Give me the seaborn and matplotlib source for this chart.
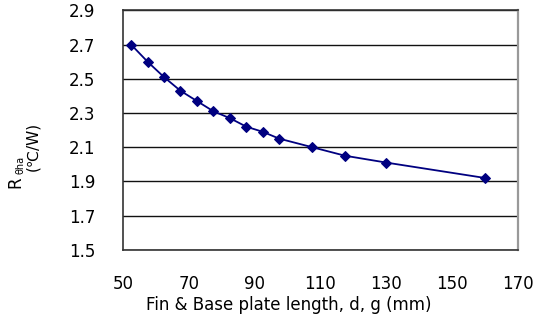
import matplotlib
matplotlib.use("Agg")
import matplotlib.pyplot as plt
import seaborn as sns
import pandas as pd

# fin & base plate length (mm) vs thermal resistance R_theta_ha (C/W)
length_mm = [52.5, 57.5, 62.5, 67.5, 72.5, 77.5, 82.5, 87.5, 92.5, 97.5, 107.5, 117.5, 130, 160]
r_theta = [2.70, 2.60, 2.51, 2.43, 2.37, 2.31, 2.27, 2.22, 2.19, 2.15, 2.10, 2.05, 2.01, 1.92]

x_ticks = [50, 70, 90, 110, 130, 150, 170]
y_ticks = [1.5, 1.7, 1.9, 2.1, 2.3, 2.5, 2.7, 2.9]

df = pd.DataFrame({"length": length_mm, "r": r_theta})

sns.set_style("white")
plt.rcParams['font.family'] = ['DejaVu Sans', 'Noto Sans CJK KR']
plt.rcParams['text.color'] = 'black'
plt.rcParams['xtick.labelcolor'] = 'black'
plt.rcParams['ytick.labelcolor'] = 'black'

W, H = 533, 322
fig = plt.figure(figsize=(W / 100, H / 100), dpi=100)
ax = fig.add_axes([0.2306, 0.2245, 0.7407, 0.743])

sns.lineplot(data=df, x="length", y="r", ax=ax, color="#000080", linewidth=1.3,
             marker="D", markersize=5.5, markeredgecolor="#000080")

ax.set_xlim(50, 170)
ax.set_ylim(1.5, 2.9)
ax.set_xticks(x_ticks)
ax.set_yticks(y_ticks)
ax.set_xticklabels([str(t) for t in x_ticks], fontsize=12)
ax.set_yticklabels(["%.1f" % t for t in y_ticks], fontsize=12)
ax.tick_params(axis="x", direction="in", length=4, width=1, color="#222222", pad=18)
ax.tick_params(axis="y", length=0, pad=20)

ax.grid(axis="y", color="#111111", linewidth=1)
ax.set_axisbelow(True)
for s in ax.spines.values():
    s.set_color("#333333")
    s.set_linewidth(1.2)
ax.spines["right"].set_color("#999999")
ax.spines["right"].set_linewidth(1.6)

ax.set_xlabel("")
ax.set_ylabel("")

# axis titles placed like the original
fig.text(289 / W, 1 - 305 / H, "Fin & Base plate length, d, g (mm)",
         fontsize=12, ha="center", va="center")
fig.text(15 / W, 1 - 182 / H, "R", fontsize=12, rotation=90, ha="center", va="center")
fig.text(20 / W, 1 - 165 / H, "θha", fontsize=7, rotation=90, ha="center", va="center")
fig.text(33 / W, 1 - 146 / H, "(℃/W)", fontsize=11, rotation=90, ha="center", va="center")

fig.savefig("out.png", dpi=100)
